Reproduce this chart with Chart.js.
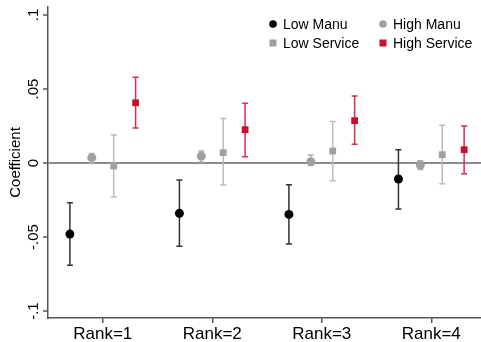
<!DOCTYPE html>
<html>
<head>
<meta charset="utf-8">
<script src="https://cdn.jsdelivr.net/npm/chart.js@4/dist/chart.umd.min.js"></script>
<style>
  html, body { margin: 0; padding: 0; background: #fff; overflow: hidden; }
  #wrap { width: 481px; height: 342px; }
</style>
</head>
<body>
<div id="wrap"><canvas id="coefChart" width="481" height="342"></canvas></div>
<script>
// --------------------
// Data
// --------------------
const categories = ["Rank=1", "Rank=2", "Rank=3", "Rank=4"];

const lowManu   = [-0.0480, -0.0340, -0.0347, -0.0108];
const lowManuLo = [-0.0691, -0.0563, -0.0547, -0.0310];
const lowManuHi = [-0.0268, -0.0115, -0.0147,  0.0090];

const highManu   = [0.0036, 0.0047,  0.0009, -0.0014];
const highManuLo = [0.0000, 0.0007, -0.0016, -0.0043];
const highManuHi = [0.0065, 0.0081,  0.0054,  0.0016];

const lowService   = [-0.0020,  0.0070,  0.0081,  0.0056];
const lowServiceLo = [-0.0230, -0.0149, -0.0120, -0.0140];
const lowServiceHi = [ 0.0190,  0.0300,  0.0280,  0.0255];

const highService   = [0.0407, 0.0225, 0.0286,  0.0090];
const highServiceLo = [0.0236, 0.0043, 0.0126, -0.0072];
const highServiceHi = [0.0580, 0.0403, 0.0453,  0.0250];

const yTicks = [-0.1, -0.05, 0, 0.05, 0.1];
const yTickLabels = ["-.1", "-.05", "0", ".05", ".1"];

const FONT = "'Liberation Sans', Arial, Helvetica, sans-serif";

// build scatter points: x = rank position + series offset
function pts(vals, lo, hi, off) {
  return vals.map((v, i) => ({ x: i + 1 + off, y: v, lo: lo[i], hi: hi[i] }));
}

const series = [
  { label: "Low Manu", data: pts(lowManu, lowManuLo, lowManuHi, -0.3),
    color: "#000000", barColor: "#333333", shape: "circle" },
  { label: "High Manu", data: pts(highManu, highManuLo, highManuHi, -0.1),
    color: "#a0a0a0", barColor: "#b0b0b0", shape: "circle" },
  { label: "Low Service", data: pts(lowService, lowServiceLo, lowServiceHi, 0.1),
    color: "#a0a0a0", barColor: "#bdbdbd", shape: "rect" },
  { label: "High Service", data: pts(highService, highServiceLo, highServiceHi, 0.3),
    color: "#c8102e", barColor: "#d0304e", shape: "rect" }
];

// --------------------
// Plugins: error bars, rotated y labels, legend
// --------------------
const errorBars = {
  id: "errorBars",
  beforeDatasetsDraw(chart) {
    const { ctx, scales: { x, y } } = chart;
    ctx.save();
    chart.data.datasets.forEach(ds => {
      ctx.strokeStyle = ds.barColor;
      ctx.lineWidth = 1.5;
      ds.data.forEach(p => {
        const px = x.getPixelForValue(p.x);
        const pl = y.getPixelForValue(p.lo);
        const ph = y.getPixelForValue(p.hi);
        ctx.beginPath();
        ctx.moveTo(px, pl); ctx.lineTo(px, ph);
        ctx.moveTo(px - 3, pl); ctx.lineTo(px + 3, pl);
        ctx.moveTo(px - 3, ph); ctx.lineTo(px + 3, ph);
        ctx.stroke();
      });
    });
    ctx.restore();
  }
};

const rotatedYLabels = {
  id: "rotatedYLabels",
  afterDraw(chart) {
    const { ctx, scales: { y } } = chart;
    ctx.save();
    ctx.fillStyle = "#000";
    ctx.font = "15px " + FONT;
    ctx.textAlign = "center";
    ctx.textBaseline = "alphabetic";
    yTicks.forEach((v, i) => {
      const py = y.getPixelForValue(v);
      ctx.save();
      ctx.translate(38, py);
      ctx.rotate(-Math.PI / 2);
      ctx.fillText(yTickLabels[i], 0, 0);
      ctx.restore();
    });
    ctx.restore();
  }
};

const gridLegend = {
  id: "gridLegend",
  afterDraw(chart) {
    const ctx = chart.ctx;
    const cols = [273, 383], rows = [24, 43];
    ctx.save();
    ctx.font = "14px " + FONT;
    ctx.textBaseline = "middle";
    ctx.textAlign = "left";
    // order: Low Manu, High Manu / Low Service, High Service
    chart.data.datasets.forEach((ds, i) => {
      const cx = cols[i % 2], cy = rows[Math.floor(i / 2)];
      ctx.fillStyle = ds.color;
      if (ds.shape === "circle") {
        ctx.beginPath();
        ctx.arc(cx, cy, 3.8, 0, Math.PI * 2);
        ctx.fill();
      } else {
        ctx.fillRect(cx - 3.5, cy - 3.5, 7, 7);
      }
      ctx.fillStyle = "#000";
      ctx.fillText(ds.label, cx + 10, cy + 1);
    });
    ctx.restore();
  }
};

// --------------------
// Chart
// --------------------
new Chart(document.getElementById("coefChart"), {
  type: "scatter",
  data: {
    datasets: series.map(s => ({
      label: s.label,
      data: s.data,
      color: s.color,
      barColor: s.barColor,
      shape: s.shape,
      pointStyle: s.shape,
      pointRadius: s.shape === "circle" ? 4.5 : 4.8,
      pointBackgroundColor: s.color,
      pointBorderWidth: 0,
      pointHoverRadius: 4.5
    }))
  },
  options: {
    responsive: false,
    devicePixelRatio: 1,
    animation: false,
    layout: { autoPadding: false, padding: { top: 7, right: 0, left: 0, bottom: 0 } },
    plugins: { legend: { display: false }, tooltip: { enabled: false } },
    scales: {
      x: {
        type: "linear",
        min: 0.5,
        max: 4.454,
        afterBuildTicks: s => { s.ticks = categories.map((c, i) => ({ value: i + 1 })); },
        afterFit: s => { s.height = 24; s.paddingLeft = 0; s.paddingRight = 0; },
        ticks: {
          callback: v => categories[v - 1],
          font: { family: FONT, size: 17 },
          color: "#000",
          padding: 1,
          maxRotation: 0,
          autoSkip: false
        },
        grid: { drawOnChartArea: false, drawTicks: true, tickLength: 5, tickColor: "#555", lineWidth: 1.5 },
        border: { color: "#555", width: 1.5 }
      },
      y: {
        min: -0.1047,
        max: 0.1054,
        afterBuildTicks: s => { s.ticks = yTicks.map(v => ({ value: v })); },
        afterFit: s => { s.width = 48; s.paddingTop = 0; s.paddingBottom = 0; },
        ticks: { display: false },
        title: {
          display: true,
          text: "Coefficient",
          font: { family: FONT, size: 15 },
          color: "#000",
          padding: { top: 7, bottom: 0 }
        },
        grid: {
          color: c => (c.tick && c.tick.value === 0 ? "#8c8c8c" : "rgba(0,0,0,0)"),
          lineWidth: 2,
          tickLength: 5,
          tickColor: "#555",
          tickWidth: 1.5
        },
        border: { color: "#555", width: 1.5 }
      }
    }
  },
  plugins: [errorBars, rotatedYLabels, gridLegend]
});
</script>
</body>
</html>
